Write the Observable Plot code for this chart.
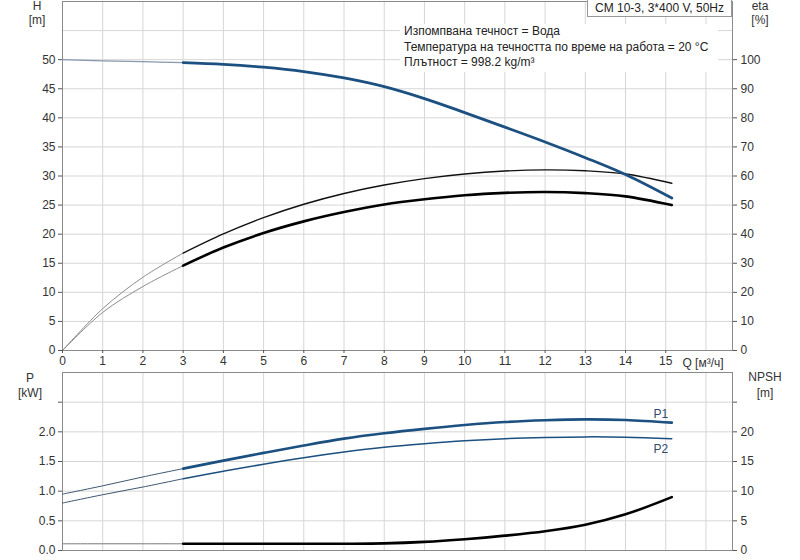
<!DOCTYPE html>
<html><head><meta charset="utf-8">
<script src="https://cdn.jsdelivr.net/npm/d3@7"></script>
<script src="https://cdn.jsdelivr.net/npm/@observablehq/plot@0.6"></script>
<style>
body{margin:0;background:#fff;font-family:Arial,"Liberation Sans",sans-serif;}
#wrap{position:relative;width:800px;height:560px;overflow:hidden;background:#fff}
#top{position:absolute;left:0;top:0}
#bot{position:absolute;left:0;top:371px}
.lbl{position:absolute;font-size:12px;color:#333;line-height:14px;white-space:nowrap;transform:translate(-50%,-50%)}
#note{position:absolute;left:400px;top:24px;width:318px;height:48px;background:#fff;font-size:12px;color:#222;line-height:15.5px;padding-left:4px;box-sizing:border-box}
#legend{position:absolute;left:587px;top:-1px;width:145px;height:18px;background:#fff;border:1px solid #999;box-sizing:border-box;font-size:12px;color:#222;text-align:center;line-height:16px}
</style></head><body>
<div id="wrap">
<div id="top"></div>
<div id="bot"></div>
<div id="note">Изпомпвана течност = Вода<br>Температура на течността по време на работа = 20 °C<br>Плътност = 998.2 kg/m³</div>
<div id="legend">CM 10-3, 3*400 V, 50Hz</div>
<div class="lbl" style="left:37px;top:6px">H</div>
<div class="lbl" style="left:37px;top:20px">[m]</div>
<div class="lbl" style="left:760px;top:6px">eta</div>
<div class="lbl" style="left:760px;top:20px">[%]</div>
<div class="lbl" style="left:703px;top:363px">Q [м³/ч]</div>
<div class="lbl" style="left:30px;top:378px">P</div>
<div class="lbl" style="left:30px;top:393px">[kW]</div>
<div class="lbl" style="left:765px;top:377px">NPSH</div>
<div class="lbl" style="left:765px;top:393px">[m]</div>
</div>
<script>
// Flow Q [m³/h]
const flowQ = [0,1,2,3,4,5,6,7,8,9,10,11,12,13,14,15.15];
// Head H [m]
const headH = [50,49.8,49.65,49.5,49.2,48.7,47.95,46.85,45.35,43.3,40.9,38.4,35.85,33.15,30.25,26.2];
// Efficiencies [%]
const etaPump = [0,14.4,25.2,33.5,40.1,45.7,50.3,54.0,56.9,59.1,60.7,61.7,62.1,61.8,60.7,57.5];
const etaTotal = [0,13.1,22,29.2,35.4,40.4,44.4,47.6,50.2,52.0,53.4,54.2,54.5,54.1,53.0,50.0];
// Power [kW]
const powerP1 = [0.95,1.09,1.24,1.38,1.515,1.645,1.77,1.885,1.975,2.05,2.115,2.165,2.195,2.21,2.2,2.155];
const powerP2 = [0.80,0.94,1.07,1.21,1.335,1.455,1.565,1.66,1.74,1.80,1.85,1.885,1.905,1.915,1.91,1.885];
// NPSH [m]
const npshM = [1.13,1.13,1.13,1.13,1.13,1.13,1.13,1.14,1.2,1.45,1.9,2.5,3.25,4.35,6.1,9.0];
// Tick labels
const xTicks = d3.range(0,16);
const xGrid = d3.range(0,17);
const hTicks = d3.range(0,51,5);
const pTicks = [0,0.5,1.0,1.5,2.0,2.5];

const rows = flowQ.map((q,i)=>({q,h:headH[i],ep:etaPump[i],et:etaTotal[i],p1:powerP1[i],p2:powerP2[i],n:npshM[i]}));
const lo = rows.filter(d=>d.q<=3), hi = rows.filter(d=>d.q>=3);
const last = hi[hi.length-1];

const blue = "#1c5080", grid = "#d6d6d6", axisC = "#8a8a8a";
const cv = "catmull-rom";
const xScale = {domain:[0,16.66], axis:null};
const style = {fontFamily:"Arial, 'Liberation Sans', sans-serif", fontSize:"12px", color:"#333", background:"#fff"};

const topPlot = Plot.plot({
  width:800, height:372, marginLeft:62, marginRight:68, marginTop:1, marginBottom:22,
  style, x: xScale, y:{domain:[0,60], axis:null},
  marks:[
    Plot.gridX(xGrid,{stroke:grid, strokeOpacity:1}),
    Plot.gridY(d3.range(0,61,5),{stroke:grid, strokeOpacity:1}),
    Plot.frame({stroke:axisC}),
    Plot.line(lo,{x:"q",y:d=>d.ep/2,stroke:"#8c8c8c",strokeWidth:1,curve:cv}),
    Plot.line(lo,{x:"q",y:d=>d.et/2,stroke:"#8c8c8c",strokeWidth:1,curve:cv}),
    Plot.line(lo,{x:"q",y:"h",stroke:"#8598ad",strokeWidth:1.2,curve:cv}),
    Plot.line(hi,{x:"q",y:d=>d.ep/2,stroke:"#111",strokeWidth:1.4,curve:cv}),
    Plot.line(hi,{x:"q",y:d=>d.et/2,stroke:"#000",strokeWidth:2.6,curve:cv}),
    Plot.line(hi,{x:"q",y:"h",stroke:blue,strokeWidth:2.8,curve:cv}),
    Plot.axisX({ticks:xTicks, tickSize:3, tickPadding:3, label:null, tickFormat:d=>String(d), stroke:"#555"}),
    Plot.axisY({anchor:"left", ticks:hTicks, tickSize:4, tickPadding:3, label:null, tickFormat:d=>String(d), stroke:"#555"}),
    Plot.axisY({anchor:"right", ticks:hTicks, tickSize:4, tickPadding:4, label:null, tickFormat:d=>String(d*2), stroke:"#555"})
  ]
});
document.getElementById("top").append(topPlot);

const botPlot = Plot.plot({
  width:800, height:189, marginLeft:62, marginRight:68, marginTop:1, marginBottom:10,
  style, x: xScale, y:{domain:[0,3], axis:null},
  marks:[
    Plot.gridX(xGrid,{stroke:grid, strokeOpacity:1}),
    Plot.gridY(pTicks,{stroke:grid, strokeOpacity:1}),
    Plot.frame({stroke:axisC}),
    Plot.line(lo,{x:"q",y:"p1",stroke:"#3d5770",strokeWidth:1,curve:cv}),
    Plot.line(lo,{x:"q",y:"p2",stroke:"#3d5770",strokeWidth:1,curve:cv}),
    Plot.line(lo,{x:"q",y:d=>d.n/10,stroke:"#777",strokeWidth:1,curve:cv}),
    Plot.line(hi,{x:"q",y:"p2",stroke:blue,strokeWidth:1.5,curve:cv}),
    Plot.line(hi,{x:"q",y:"p1",stroke:blue,strokeWidth:2.6,curve:cv}),
    Plot.line(hi,{x:"q",y:d=>d.n/10,stroke:"#000",strokeWidth:2.6,curve:cv}),
    Plot.text([last],{x:"q",y:"p1",text:()=>"P1",dx:-11,dy:-8,fill:"#2f4d6b",fontSize:12}),
    Plot.text([last],{x:"q",y:"p2",text:()=>"P2",dx:-11,dy:10,fill:"#2f4d6b",fontSize:12}),
    Plot.axisY({anchor:"left", ticks:pTicks, tickSize:4, tickPadding:3, label:null, tickFormat:d=>d===2.5?"":d.toFixed(1), stroke:"#555"}),
    Plot.axisY({anchor:"right", ticks:pTicks, tickSize:4, tickPadding:4, label:null, tickFormat:d=>d===2.5?"":String(Math.round(d*10)), stroke:"#555"})
  ]
});
document.getElementById("bot").append(botPlot);
</script>
</body></html>
